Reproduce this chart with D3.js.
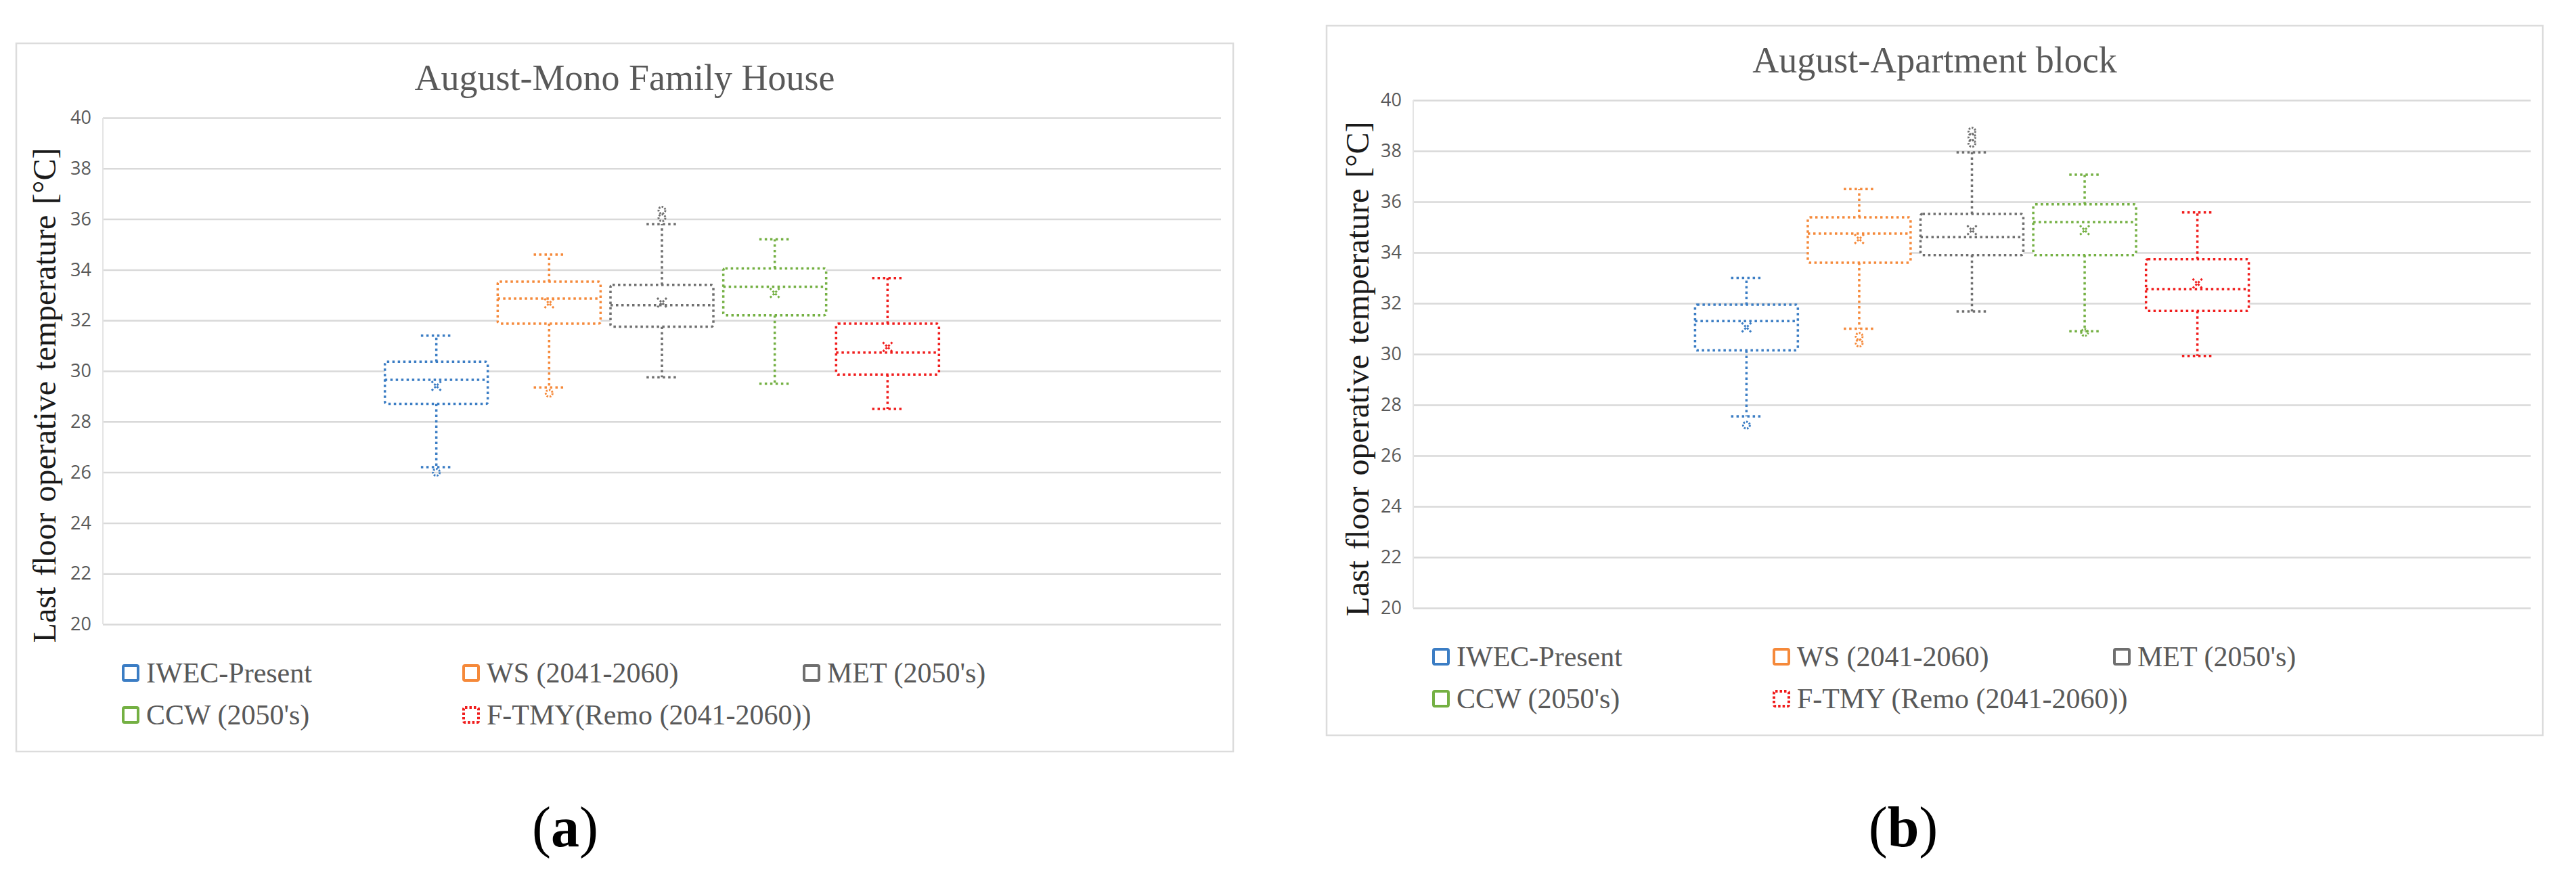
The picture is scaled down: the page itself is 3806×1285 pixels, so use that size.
<!DOCTYPE html>
<html>
<head>
<meta charset="utf-8">
<script src="https://cdn.jsdelivr.net/npm/d3@7"></script>
<style>
  html, body { margin: 0; padding: 0; background: #fff; }
  svg { display: block; }
  .grid line { stroke: #d9d9d9; stroke-width: 2.5px; }
  .grid path { display: none; }
  .ticks text { font-family: "Open Sans", sans-serif; font-size: 27px; fill: #595959; }
  .ticks path, .ticks line { display: none; }
</style>
</head>
<body>
<div id="chart-area"></div>
<script>
// series shared by both panels
const series = ["IWEC-Present", "WS (2041-2060)", "MET (2050's)", "CCW (2050's)", "F-TMY"]
const colors = ["#3b7dc4", "#f5893a", "#6f6f6f", "#74b043", "#f01c1c"]
const yTicks = [20, 22, 24, 26, 28, 30, 32, 34, 36, 38, 40]

// (a) August - Mono Family House
const monoMin = [26.2, 29.35, 29.75, 29.5, 28.5]
const monoQ1 = [28.7, 31.87, 31.75, 32.2, 29.86]
const monoMedian = [29.65, 32.86, 32.6, 33.33, 30.73]
const monoQ3 = [30.37, 33.53, 33.4, 34.05, 31.87]
const monoMax = [31.4, 34.6, 35.8, 35.2, 33.67]
const monoMean = [29.41, 32.67, 32.7, 33.08, 30.95]
const monoOutliers = [[26.0], [29.12], [36.05, 36.35], [], []]

// (b) August - Apartment block
const aptMin = [27.55, 31.0, 31.68, 30.9, 29.93]
const aptQ1 = [30.15, 33.6, 33.9, 33.9, 31.7]
const aptMedian = [31.3, 34.75, 34.61, 35.2, 32.56]
const aptQ3 = [31.95, 35.39, 35.52, 35.9, 33.74]
const aptMax = [33.0, 36.5, 37.95, 37.07, 35.58]
const aptMean = [31.05, 34.53, 34.88, 34.88, 32.78]
const aptOutliers = [[27.2], [30.7, 30.43], [38.3, 38.55, 38.78], [30.85], []]

const svg = d3.select("#chart-area").append("svg")
	.attr("width", 3806)
	.attr("height", 1285)

const serif = "'Liberation Serif', 'DejaVu Serif', serif"

const panels = [
	{
		title: "August-Mono Family House",
		lastLegend: "F-TMY(Remo (2041-2060))",
		caption: "a",
		left: 152, top: 174, width: 1652, height: 748,
		yTitleY: 584, yTitleX: 82, captionX: 835,
		min: monoMin, q1: monoQ1, median: monoMedian, q3: monoQ3, max: monoMax,
		mean: monoMean, outliers: monoOutliers
	},
	{
		title: "August-Apartment block",
		lastLegend: "F-TMY (Remo (2041-2060))",
		caption: "b",
		left: 2088, top: 148, width: 1651, height: 750,
		yTitleY: 545, yTitleX: 2022, captionX: 2812,
		min: aptMin, q1: aptQ1, median: aptMedian, q3: aptQ3, max: aptMax,
		mean: aptMean, outliers: aptOutliers
	}
]

const DOT = "3.5 4.5"

panels.forEach(p => {
	// chart frame
	svg.append("rect")
		.attr("x", p.left - 128)
		.attr("y", p.top - 110)
		.attr("width", p.width + 146)
		.attr("height", p.height + 298)
		.attr("fill", "none")
		.attr("stroke", "#dcdcdc")
		.attr("stroke-width", 2.5)

	svg.append("text")
		.attr("x", p.left + p.width / 2 - 55)
		.attr("y", p.top - 41)
		.attr("text-anchor", "middle")
		.attr("font-family", serif)
		.attr("font-size", 54)
		.attr("fill", "#595959")
		.text(p.title)

	const g = svg.append("g")
		.attr("transform", `translate(${p.left}, ${p.top})`)

	// scales
	const y = d3.scaleLinear().domain([20, 40]).range([p.height, 0])
	const x = d3.scaleBand()
		.domain(series)
		.range([0, p.width])
		.paddingInner(0.088)
		.paddingOuter(2.5)

	// gridlines
	g.append("g")
		.attr("class", "grid")
		.call(d3.axisLeft(y).tickValues(yTicks).tickSize(-p.width).tickFormat(""))

	g.append("line")
		.attr("x1", 0).attr("x2", 0)
		.attr("y1", 0).attr("y2", p.height)
		.attr("stroke", "#e4e4e4")
		.attr("stroke-width", 2)

	// tick labels
	g.append("g")
		.attr("class", "ticks")
		.call(d3.axisLeft(y).tickValues(yTicks).tickSize(0).tickPadding(17))

	// y-axis label
	svg.append("text")
		.attr("transform", `translate(${p.yTitleX}, ${p.yTitleY}) rotate(-90)`)
		.attr("text-anchor", "middle")
		.attr("font-family", serif)
		.attr("font-size", 48)
		.attr("word-spacing", 4)
		.attr("fill", "#1a1a1a")
		.text("Last floor operative temperature [°C]")

	// boxes
	const bw = x.bandwidth()
	const capW = bw * 0.3
	const boxes = g.selectAll(".box")
		.data(series)
		.enter().append("g")
		.attr("class", "box")
		.attr("transform", d => `translate(${x(d) + bw / 2}, 0)`)
		.attr("fill", "none")
		.attr("stroke", (d, i) => colors[i])
		.attr("stroke-width", 3.5)
		.attr("stroke-dasharray", DOT)

	// whiskers
	boxes.append("line")
		.attr("y1", (d, i) => y(p.q3[i])).attr("y2", (d, i) => y(p.max[i]))
	boxes.append("line")
		.attr("y1", (d, i) => y(p.q1[i])).attr("y2", (d, i) => y(p.min[i]))
	boxes.append("line")
		.attr("x1", -capW / 2).attr("x2", capW / 2)
		.attr("y1", (d, i) => y(p.max[i])).attr("y2", (d, i) => y(p.max[i]))
	boxes.append("line")
		.attr("x1", -capW / 2).attr("x2", capW / 2)
		.attr("y1", (d, i) => y(p.min[i])).attr("y2", (d, i) => y(p.min[i]))

	// box and median
	boxes.append("rect")
		.attr("x", -bw / 2)
		.attr("width", bw)
		.attr("y", (d, i) => y(p.q3[i]))
		.attr("height", (d, i) => y(p.q1[i]) - y(p.q3[i]))
		.attr("rx", 3)
		.attr("fill", "#fff")
	boxes.append("line")
		.attr("x1", -bw / 2).attr("x2", bw / 2)
		.attr("y1", (d, i) => y(p.median[i])).attr("y2", (d, i) => y(p.median[i]))

	// mean marker
	boxes.append("path")
		.attr("stroke-dasharray", "3 2.5")
		.attr("stroke-width", 3)
		.attr("d", (d, i) => {
			const m = y(p.mean[i])
			return `M-7,${m - 7}L7,${m + 7}M7,${m - 7}L-7,${m + 7}`
		})

	// outliers
	boxes.each(function (d, i) {
		d3.select(this).selectAll(".outlier")
			.data(p.outliers[i])
			.enter().append("circle")
			.attr("class", "outlier")
			.attr("r", 5)
			.attr("cy", v => y(v))
			.attr("stroke-dasharray", "2.5 2")
			.attr("stroke-width", 3)
	})

	// legend
	const legendLabels = series.slice(0, 4).concat([p.lastLegend])
	const legend = svg.append("g")
		.attr("transform", `translate(${p.left}, ${p.top + p.height})`)
	const item = legend.selectAll(".item")
		.data(legendLabels)
		.enter().append("g")
		.attr("class", "item")
		.attr("transform", (d, i) => `translate(${30 + (i % 3) * 503}, ${i < 3 ? 72 : 134})`)
	item.append("rect")
		.attr("x", 0).attr("y", -11)
		.attr("width", 22).attr("height", 22)
		.attr("rx", 2)
		.attr("fill", "none")
		.attr("stroke", (d, i) => colors[i])
		.attr("stroke-width", 4)
		.attr("stroke-dasharray", (d, i) => i === 4 ? "3.5 3" : null)
	item.append("text")
		.attr("x", 34)
		.attr("y", 14)
		.attr("font-family", serif)
		.attr("font-size", 42)
		.attr("fill", "#595959")
		.text(d => d)

	// panel caption
	const cap = svg.append("text")
		.attr("x", p.captionX)
		.attr("y", 1250)
		.attr("text-anchor", "middle")
		.attr("font-family", serif)
		.attr("font-size", 84)
		.attr("fill", "#000")
	cap.append("tspan").text("(")
	cap.append("tspan").attr("font-weight", "bold").text(p.caption)
	cap.append("tspan").text(")")
})
</script>
</body>
</html>
